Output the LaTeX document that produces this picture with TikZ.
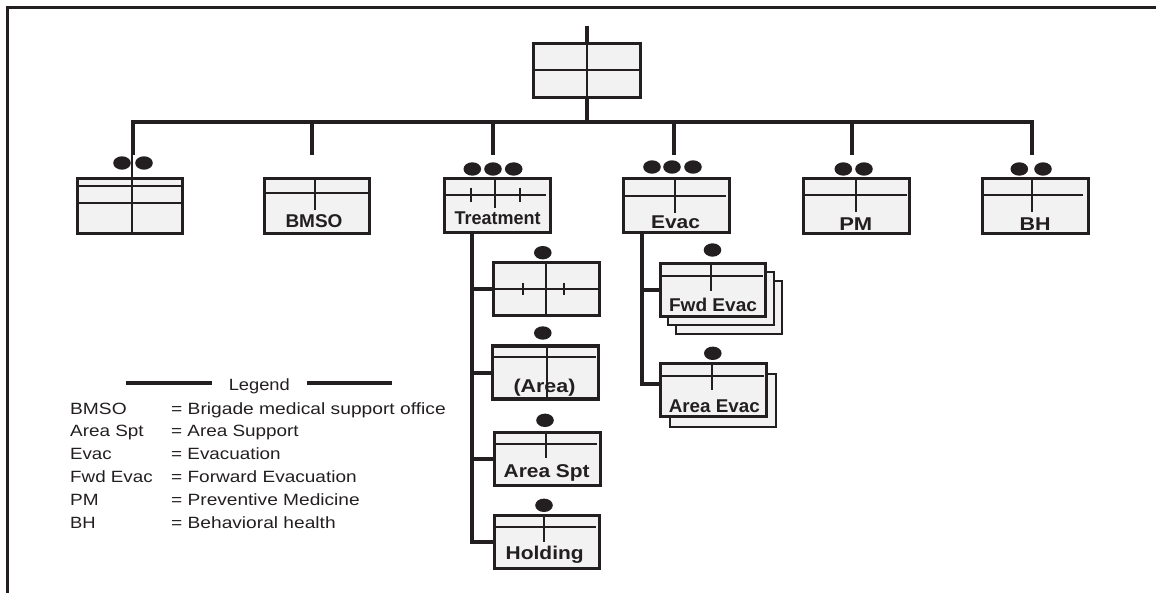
\documentclass[tikz,border=0pt]{standalone}
\usepackage{fontspec}
\setmainfont{Liberation Sans}
\usepackage{graphicx}
\usetikzlibrary{calc}
\definecolor{boxfill}{RGB}{241,242,241}
\definecolor{ink}{RGB}{35,31,32}
\newcommand{\fitw}[2]{\resizebox{#1pt}{\height}{#2}}
\newcommand{\hv}[5]{%
  \draw[inner] ($(#1.north west)+(0,#2)$) -- ($(#1.north east)+(#5,#2)$);
  \draw[inner] ($(#1.north)+(#4,0)$) -- ++(0,#3);}
\newcommand{\udot}[1]{\fill[ink] #1 ellipse [x radius=8.8pt, y radius=6.7pt];}
\tikzset{
  unit/.style={draw=ink, line width=3.3pt, fill=boxfill, minimum width=105.5pt,
    minimum height=54.5pt, inner sep=0pt, outer sep=0pt},
  sub/.style={unit, minimum height=53pt},
  shadowbox/.style={draw=ink, line width=2pt, fill=boxfill, minimum width=106pt,
    minimum height=53pt, inner sep=0pt, outer sep=0pt},
  conn/.style={draw=ink, line width=4pt},
  inner/.style={draw=ink, line width=2pt},
  frame/.style={draw=ink, line width=3pt},
  blbl/.style={font=\bfseries\fontsize{18.5}{20}\selectfont, text=ink, inner sep=0pt, anchor=base},
  leg/.style={font=\fontsize{16.3}{18}\selectfont, text=ink, inner sep=0pt, anchor=base west},
  legtitle/.style={leg, anchor=base},
}
\begin{document}
\begin{tikzpicture}[x=1pt,y=-1pt]
\useasboundingbox (0,0) rectangle (1156,593);
\draw[frame] (7.3,593) -- (7.3,7.3) -- (1156,7.3);

% top unit
\node[unit, minimum width=107pt, minimum height=53.5pt] (top) at (587,70.5) {};
\draw[inner] (top.west) -- (top.east);
\draw[inner] (top.north) -- (top.south);
\coordinate (topin) at ($(top.north)+(0,-18)$);
\draw[conn] (topin) -- (top.north);
\coordinate (bus) at ($(top.south)+(0,24.75)$);
\draw[conn] (top.south) -- (bus);

% drop ends
\coordinate (d1) at (133,155);
\coordinate (d2) at (312,155);
\coordinate (d3) at (493,155);
\coordinate (d4) at (674,155);
\coordinate (d5) at (852,155);
\coordinate (d6) at (1032,155);
\draw[conn] (d1) |- (bus) -| (d6);
\foreach \d in {d2,d3,d4,d5} \draw[conn] (\d |- bus) -- (\d);

% second row
\node[unit] (b1) at (130,206) {};
\node[unit] (bmso) at (317,206) {};
\node[unit] (tr) at (497.5,205.5) {};
\node[unit] (ev) at (676.5,205.5) {};
\node[unit] (pm) at (856.5,206) {};
\node[unit] (bh) at (1035.5,206) {};

\draw[inner] ($(b1.north west)+(0,7.25)$) -- ($(b1.north east)+(0,7.25)$);
\draw[inner] ($(b1.north west)+(0,24.25)$) -- ($(b1.north east)+(0,24.25)$);
\draw[inner] ($(b1.north)+(2,-24)$) -- ($(b1.south)+(2,0)$);
\hv{bmso}{14.25}{31}{-2}{-1.5}
\hv{tr}{16.5}{29.5}{-2.5}{-4}
\draw[inner] ($(tr.north)+(-26.5,9.5)$) -- ++(0,14);
\draw[inner] ($(tr.north)+(22.5,9.5)$) -- ++(0,14);
\hv{ev}{17.5}{34.5}{-1.5}{-3}
\hv{pm}{16.25}{33.25}{-0.5}{-2}
\hv{bh}{16.25}{33.25}{-3.5}{-5}

% dots of second row
\udot{($(d1)+(-11,8)$)}
\udot{($(d1)+(11,8)$)}
\udot{($(d3)+(-20.7,14)$)}
\udot{($(d3)+(0,14)$)}
\udot{($(d3)+(20.7,14)$)}
\udot{($(d4)+(-22,12)$)}
\udot{($(d4)+(-2,12)$)}
\udot{($(d4)+(19,12)$)}
\udot{($(d5)+(-8.7,14)$)}
\udot{($(d5)+(12,14)$)}
\udot{($(d6)+(-12.7,14)$)}
\udot{($(d6)+(11,14)$)}

% labels second row
\node[blbl] (lbmso) at ($(bmso.south)+(-3,-6)$) {\fitw{57}{BMSO}};
\node[blbl] (ltr) at ($(tr.south)+(0,-8.5)$) {\fitw{86}{Treatment}};
\node[blbl] (lev) at ($(ev.south)+(-1,-4.5)$) {\fitw{49}{Evac}};
\node[blbl] (lpm) at ($(pm.south)+(-0.7,-3)$) {\fitw{33}{PM}};
\node[blbl] (lbh) at ($(bh.south)+(-0.5,-3)$) {\fitw{31}{BH}};

% treatment subordinate units
\node[sub] (t1) at (546.5,289) {};
\node[sub] (t2) at (545.5,372.5) {};
\node[sub] (t3) at (547.5,459) {};
\node[sub] (t4) at (547,542) {};
\draw[inner] (t1.west) -- (t1.east);
\draw[inner] ($(t1.north)+(-0.5,0)$) -- ($(t1.south)+(-0.5,0)$);
\draw[inner] ($(t1.center)+(-23.5,-6)$) -- ++(0,12);
\draw[inner] ($(t1.center)+(17.5,-6)$) -- ++(0,12);
\hv{t2}{11}{53}{1.5}{-2}
\hv{t3}{11.5}{25.5}{-1.5}{-3}
\hv{t4}{11.5}{26.5}{-3}{-4}
\udot{($(t1.north)+(-3.7,-9.8)$)}
\udot{($(t2.north)+(-2.7,-13)$)}
\udot{($(t3.north)+(-2.5,-12.2)$)}
\udot{($(t4.north)+(-3,-10.2)$)}
\node[blbl] (lt2) at ($(t2.south)+(-1,-7)$) {\fitw{62}{(Area)}};
\node[blbl] (lt3) at ($(t3.south)+(-0.8,-8.5)$) {\fitw{86}{Area Spt}};
\node[blbl] (lt4) at ($(t4.south)+(-2.3,-9)$) {\fitw{78}{Holding}};

\coordinate (trk) at ($(tr.south)+(-25.5,0)$);
\draw[conn] (trk) |- (t4.west);
\foreach \t in {t1,t2,t3} \draw[conn] (trk |- \t.west) -- (\t.west);

% evacuation subordinate units
\node[shadowbox] (fe3) at (729,308) {};
\node[shadowbox] (fe2) at (721,299) {};
\node[sub] (fe) at (713,290) {};
\node[shadowbox] (ae2) at (723,400) {};
\node[sub] (ae) at (713.5,390) {};
\hv{fe}{12.5}{27.5}{-2}{-3}
\hv{ae}{12.5}{26.5}{-1.5}{-2}
\udot{($(fe.north)+(-0.5,-13.5)$)}
\udot{($(ae.north)+(-0.7,-10.2)$)}
\node[blbl] (lfe) at ($(fe.south)+(0,-4.5)$) {\fitw{88}{Fwd Evac}};
\node[blbl] (lae) at ($(ae.south)+(0.8,-4.5)$) {\fitw{91}{Area Evac}};

\coordinate (evk) at ($(ev.south)+(-34.5,0)$);
\coordinate (aein) at ($(ae.west)+(0,-6)$);
\draw[conn] (evk) |- (aein);
\draw[conn] (evk |- fe.west) -- (fe.west);

% legend
\node[legtitle] (legt) at (259.3,390) {\fitw{61}{Legend}};
\draw[conn] (126,383) -- (212,383);
\draw[conn] (307,383) -- (392,383);
\node[leg] (k1) at (70,414)   {\fitw{56.5}{BMSO}};
\node[leg] (k2) at (70,436.9) {\fitw{73.5}{Area Spt}};
\node[leg] (k3) at (70,459.8) {\fitw{41.5}{Evac}};
\node[leg] (k4) at (70,482.7) {\fitw{82.5}{Fwd Evac}};
\node[leg] (k5) at (70,505.6) {\fitw{28.5}{PM}};
\node[leg] (k6) at (70,528.5) {\fitw{25.5}{BH}};
\node[leg] (v1) at (171,414)   {\fitw{274.5}{= Brigade medical support office}};
\node[leg] (v2) at (171,436.9) {\fitw{127.5}{= Area Support}};
\node[leg] (v3) at (171,459.8) {\fitw{109.5}{= Evacuation}};
\node[leg] (v4) at (171,482.7) {\fitw{185.5}{= Forward Evacuation}};
\node[leg] (v5) at (171,505.6) {\fitw{188.5}{= Preventive Medicine}};
\node[leg] (v6) at (171,528.5) {\fitw{164.5}{= Behavioral health}};
\end{tikzpicture}
\end{document}
